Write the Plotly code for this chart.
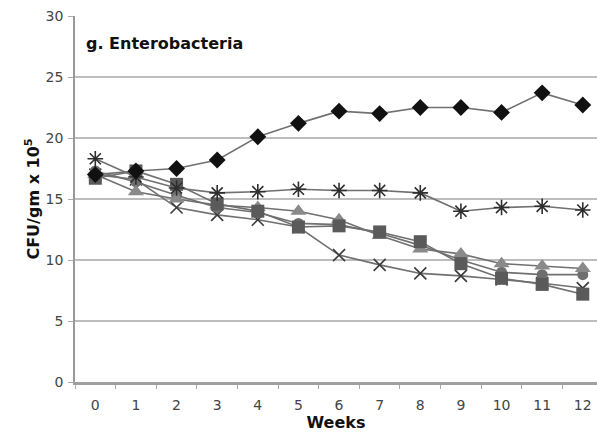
import plotly.graph_objects as go

weeks = [str(w) for w in range(13)]

diamond_vals = [17.0, 17.3, 17.5, 18.2, 20.1, 21.2, 22.2, 22.0, 22.5, 22.5, 22.1, 23.7, 22.7]
asterisk_vals = [18.3, 16.8, 15.9, 15.5, 15.6, 15.8, 15.7, 15.7, 15.5, 14.0, 14.3, 14.4, 14.1]
square_vals = [16.7, 17.3, 16.2, 14.6, 14.0, 12.7, 12.8, 12.3, 11.5, 9.7, 8.5, 8.0, 7.2]
triangle_vals = [17.0, 15.6, 15.0, 14.5, 14.3, 14.0, 13.3, 12.0, 10.9, 10.5, 9.7, 9.5, 9.3]
circle_vals = [17.3, 16.4, 15.3, 14.3, 13.9, 13.0, 12.9, 12.2, 11.2, 10.0, 9.0, 8.8, 8.8]
cross_vals = [17.0, 16.6, 14.3, 13.7, 13.3, 12.7, 10.4, 9.6, 8.9, 8.7, 8.4, 8.1, 7.7]

y_ticks = [0, 5, 10, 15, 20, 25, 30]

line_col = "#707070"

series = [
    (cross_vals, "x-thin-open", 12, "#3a3a3a", 1.6),
    (circle_vals, "circle", 11, "#6e6e6e", 0),
    (triangle_vals, "triangle-up", 14, "#8a8a8a", 0),
    (square_vals, "square", 13, "#5a5a5a", 0),
    (asterisk_vals, "asterisk-open", 13, "#2e2e2e", 1.6),
    (diamond_vals, "diamond", 13, "#111111", 0),
]

fig = go.Figure()
for vals, sym, size, col, lw in series:
    marker = dict(symbol=sym, size=size, color=col)
    if lw:
        marker["line"] = dict(color=col, width=lw)
    else:
        marker["line"] = dict(width=0)
    fig.add_trace(go.Scatter(
        x=weeks, y=vals, mode="lines+markers",
        line=dict(color=line_col, width=1.6),
        marker=marker, showlegend=False,
    ))

fig.add_annotation(
    text="<b>g. Enterobacteria</b>", xref="paper", yref="paper",
    x=0.018, y=0.925, xanchor="left", yanchor="middle", showarrow=False,
    font=dict(family="DejaVu Sans", size=16, color="#111"),
)

fig.update_layout(
    width=597, height=435,
    margin=dict(l=75, r=0, t=16, b=53),
    paper_bgcolor="white", plot_bgcolor="white",
    font=dict(family="DejaVu Sans", color="#444"),
)
fig.update_xaxes(
    type="category", range=[-0.5, 12.35],
    tickson="boundaries", ticks="outside", ticklen=4, tickcolor="#aaa",
    ticklabelstandoff=8,
    showgrid=False, showline=True, linecolor="#a0a0a0", linewidth=3,
    tickfont=dict(size=14, color="#444"),
    title=dict(text="<b>Weeks</b>", font=dict(size=16, color="#111"), standoff=0),
)
fig.update_yaxes(
    range=[0, 30], tickvals=y_ticks, ticks="outside", ticklen=5, tickcolor="#aaa",
    ticklabelstandoff=2,
    showgrid=True, gridcolor="#bdbdbd", gridwidth=1.5,
    showline=True, linecolor="#999", linewidth=1.5, zeroline=False,
    tickfont=dict(size=14, color="#444"),
    title=dict(text="<b>CFU/gm x 10<sup>5</sup></b>", font=dict(size=16, color="#111"), standoff=2),
)

fig.write_html("out.html")
